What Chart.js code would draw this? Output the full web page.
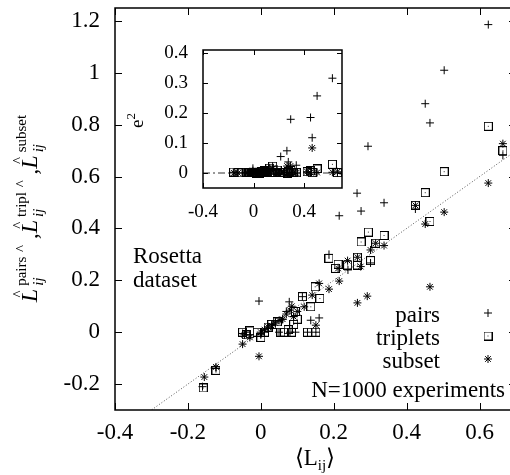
<!DOCTYPE html>
<html>
<head>
<meta charset="utf-8">
<script src="https://cdn.jsdelivr.net/npm/chart.js@4.4.0/dist/chart.umd.min.js"></script>
<style>
html, body { margin: 0; padding: 0; background: #fff; overflow: hidden; width: 510px; height: 475px; }
#wrap { position: relative; width: 510px; height: 475px; overflow: hidden; }
#mainChart { position: absolute; left: 0; top: 0; }
#insetChart { position: absolute; left: 120px; top: 30px; }
</style>
</head>
<body>
<div id="wrap">
<canvas id="mainChart" width="530" height="475"></canvas>
<canvas id="insetChart" width="240" height="190"></canvas>
</div>
<script>
// <L_ij> (x) and the estimates from pairs / triplets / subset (y)
var pairsL = [-0.16, -0.123, -0.05, -0.04, -0.03, -0.005, 0.0, 0.01, 0.02, 0.03, 0.04, 0.05, 0.06, 0.07, 0.078, 0.08, 0.09, 0.095, 0.114, 0.128, 0.137, 0.151, 0.16, 0.187, 0.215, 0.239, 0.264, 0.275, 0.294, 0.301, 0.338, 0.424, 0.451, 0.464, 0.503, 0.624, 0.664]
var pairsEst = [-0.21, -0.14, -0.005, 0.0, -0.01, 0.12, -0.01, 0.0, 0.02, 0.03, 0.04, 0.0, 0.05, 0.08, 0.117, 0.0, 0.06, 0.0, 0.137, 0.0, 0.046, 0.0, 0.055, 0.30, 0.449, 0.24, 0.536, 0.467, 0.717, 0.267, 0.499, 0.475, 0.881, 0.807, 1.01, 1.186, 0.682]
var pairsErr = [0.0025, 0.0003, 0.002, 0.0016, 0.0004, 0.0156, 0.0001, 0.0001, 0.0, 0.0, 0.0, 0.0025, 0.0001, 0.0001, 0.0015, 0.0064, 0.0009, 0.009, 0.0005, 0.0164, 0.0083, 0.0228, 0.011, 0.0128, 0.0548, 0.0, 0.074, 0.0369, 0.179, 0.0012, 0.0259, 0.0026, 0.185, 0.1176, 0.257, 0.316, 0.0003]

var tripL = [-0.158, -0.123, -0.05, -0.04, -0.03, -0.01, 0.0, 0.01, 0.02, 0.03, 0.045, 0.055, 0.065, 0.075, 0.085, 0.09, 0.095, 0.1, 0.114, 0.128, 0.137, 0.151, 0.162, 0.149, 0.187, 0.205, 0.212, 0.238, 0.265, 0.265, 0.275, 0.295, 0.301, 0.315, 0.338, 0.424, 0.451, 0.464, 0.503, 0.624, 0.664]
var tripEst = [-0.215, -0.147, 0.0, -0.01, 0.005, 0.0, -0.02, 0.0, 0.02, 0.03, 0.04, 0.0, 0.0, 0.01, 0.0, 0.03, 0.08, 0.05, 0.137, 0.0, 0.098, 0.0, 0.13, 0.175, 0.285, 0.246, 0.262, 0.259, 0.289, 0.259, 0.348, 0.386, 0.276, 0.343, 0.373, 0.489, 0.538, 0.427, 0.619, 0.794, 0.70]
var tripErr = [0.0032, 0.0006, 0.0025, 0.0009, 0.0012, 0.0001, 0.0004, 0.0001, 0.0, 0.0, 0.0, 0.003, 0.0042, 0.0042, 0.0072, 0.0036, 0.0002, 0.0025, 0.0005, 0.0164, 0.0015, 0.0228, 0.001, 0.0007, 0.0096, 0.0017, 0.0025, 0.0004, 0.0006, 0.0, 0.0053, 0.0083, 0.0006, 0.0008, 0.0012, 0.0042, 0.0076, 0.0014, 0.0135, 0.0289, 0.0013]

var subL = [-0.155, -0.123, -0.05, -0.045, -0.03, -0.005, 0.0, 0.01, 0.02, 0.03, 0.04, 0.05, 0.06, 0.07, 0.08, 0.085, 0.09, 0.1, 0.119, 0.141, 0.151, 0.16, 0.187, 0.215, 0.212, 0.238, 0.265, 0.274, 0.265, 0.292, 0.301, 0.315, 0.338, 0.424, 0.451, 0.464, 0.503, 0.624, 0.664]
var subEst = [-0.173, -0.134, -0.046, -0.01, -0.02, -0.093, 0.0, 0.01, 0.02, 0.025, 0.035, 0.045, 0.05, 0.07, 0.085, 0.1, 0.06, 0.08, 0.098, 0.143, 0.027, 0.188, 0.166, 0.197, 0.246, 0.276, 0.289, 0.253, 0.113, 0.139, 0.317, 0.343, 0.334, 0.489, 0.417, 0.175, 0.463, 0.575, 0.727]
var subErr = [0.0003, 0.0001, 0.0, 0.0012, 0.0001, 0.0077, 0.0, 0.0, 0.0, 0.0, 0.0, 0.0, 0.0001, 0.0, 0.0, 0.0002, 0.0009, 0.0004, 0.0004, 0.0, 0.0154, 0.0008, 0.0004, 0.0003, 0.0012, 0.0014, 0.0006, 0.0004, 0.0231, 0.0234, 0.0003, 0.0008, 0.0, 0.0042, 0.0012, 0.0835, 0.0016, 0.0024, 0.004]

var seriesNames = ['pairs', 'triplets', 'subset']
var titleParts = ['pairs', 'tripl', 'subset']
var xRange = [-0.4, 0.7]
var yRange = [-0.3, 1.25]
var insetY = [-0.05, 0.41]

var serif = '"Liberation Serif", "Times New Roman", serif'
Chart.defaults.font.family = serif
Chart.defaults.color = '#000'

function pts(xs, ys) {
    var out = []
    for (var i = 0; i < xs.length; i++) out.push({x: xs[i], y: ys[i]})
    return out
}

// square with a dot in the middle, like gnuplot's boxed point
function boxDot() {
    var c = document.createElement('canvas')
    c.width = 9; c.height = 9
    var g = c.getContext('2d')
    g.strokeStyle = '#000'; g.lineWidth = 1
    g.strokeRect(0.5, 0.5, 8, 8)
    g.fillStyle = '#333'; g.fillRect(4, 4, 1, 1)
    return c
}
var boxStyle = boxDot()
var marks = [
    {pointStyle: 'cross', radius: 4},
    {pointStyle: boxStyle, radius: 4},
    {pointStyle: 'star', radius: 4}
]

function scatterSet(label, data, m) {
    return {
        type: 'scatter', label: label, data: data,
        pointStyle: m.pointStyle, pointRadius: m.radius,
        borderColor: '#000', backgroundColor: 'rgba(0,0,0,0)', borderWidth: 1
    }
}

function fitAxis(w, h) {
    return function(scale) {
        if (w) scale.width = w
        if (h) scale.height = h
        scale.paddingTop = 0; scale.paddingBottom = 0
        scale.paddingLeft = 0; scale.paddingRight = 0
    }
}
function fmt(v) { return String(Math.round(v * 10) / 10) }

// inward ticks on all four sides plus the frame
var frameTicks = {
    id: 'frameTicks',
    beforeDatasetsDraw: function(chart, args, opts) {
        if (!opts.fill) return
        var a = chart.chartArea, ctx = chart.ctx
        ctx.save(); ctx.fillStyle = '#fff'
        ctx.fillRect(a.left, a.top, a.right - a.left, a.bottom - a.top)
        ctx.restore()
    },
    afterDatasetsDraw: function(chart, args, opts) {
        var ctx = chart.ctx, a = chart.chartArea, len = opts.len
        var xs = chart.scales.x, ys = chart.scales.y
        ctx.save()
        ctx.strokeStyle = '#000'; ctx.lineWidth = 1
        ctx.beginPath()
        xs.ticks.forEach(function(t) {
            var px = Math.round(xs.getPixelForValue(t.value)) + 0.5
            ctx.moveTo(px, a.bottom); ctx.lineTo(px, a.bottom - len)
            ctx.moveTo(px, a.top); ctx.lineTo(px, a.top + len)
        })
        ys.ticks.forEach(function(t) {
            var py = Math.round(ys.getPixelForValue(t.value)) + 0.5
            ctx.moveTo(a.left, py); ctx.lineTo(a.left + len, py)
            ctx.moveTo(a.right, py); ctx.lineTo(a.right - len, py)
        })
        ctx.stroke()
        ctx.lineWidth = opts.frame
        ctx.strokeRect(a.left, a.top, a.right - a.left, a.bottom - a.top)
        ctx.restore()
    }
}

function drawMark(ctx, m, x, y) {
    ctx.save()
    ctx.strokeStyle = '#000'; ctx.lineWidth = 1
    Chart.helpers.drawPoint(ctx, {pointStyle: m.pointStyle, radius: m.radius, rotation: 0, borderWidth: 1}, x, y)
    ctx.restore()
}

// L^hat_ij^{...} pieces along a baseline, centred on 0
function drawYTitle(ctx, cx, cy) {
    var big = '23px ' + serif, bigIt = 'italic 24px ' + serif
    var small = '15px ' + serif, smallIt = 'italic 15px ' + serif
    var items = []
    titleParts.forEach(function(p, i) {
        items.push({text: 'L', font: bigIt, dy: 0, hat: true, pad: 3})
        items.push({text: 'ij', font: smallIt, dy: 6, sup: p, supFont: small, supDy: -11})
        if (i < titleParts.length - 1) {
            items.push({text: ' ^', font: small, dy: -11})
            items.push({text: ' ,', font: big, dy: 0})
        }
    })
    var total = 0
    items.forEach(function(it) {
        ctx.font = it.font
        it.w = ctx.measureText(it.text).width + (it.pad || 0)
        if (it.sup) { ctx.font = it.supFont; it.w = Math.max(it.w, ctx.measureText(it.sup).width) + 1 }
        total += it.w
    })
    ctx.save()
    ctx.translate(cx, cy)
    ctx.rotate(-Math.PI / 2)
    ctx.textAlign = 'left'; ctx.textBaseline = 'alphabetic'; ctx.fillStyle = '#000'
    var x = -total / 2
    items.forEach(function(it) {
        ctx.font = it.font
        ctx.fillText(it.text, x, it.dy)
        if (it.hat) {
            ctx.font = small
            ctx.textAlign = 'center'
            ctx.fillText('^', x + it.w / 2, -14)
            ctx.textAlign = 'left'
        }
        if (it.sup) { ctx.font = it.supFont; ctx.fillText(it.sup, x, it.supDy) }
        x += it.w
    })
    ctx.restore()
}

var mainTexts = {
    id: 'mainTexts',
    afterDraw: function(chart) {
        var ctx = chart.ctx
        ctx.save()
        ctx.fillStyle = '#000'
        ctx.font = '23px ' + serif
        ctx.textBaseline = 'alphabetic'
        ctx.textAlign = 'left'
        ctx.fillText('Rosetta', 133, 263)
        ctx.fillText('dataset', 133, 287)
        ctx.textAlign = 'right'
        var base = [322, 345, 368]
        seriesNames.forEach(function(n, i) {
            ctx.fillText(n, 440, base[i])
        })
        ctx.fillText('N=1000 experiments', 505, 397)
        // x title <L_ij>
        var parts = [['\u27E8', '23px ' + serif, 0], ['L', '23px ' + serif, 0], ['ij', '15px ' + serif, 5], ['\u27E9', '23px ' + serif, 0]]
        var w = 0
        parts.forEach(function(p) { ctx.font = p[1]; p.push(ctx.measureText(p[0]).width); w += p[3] })
        var x = 315 - w / 2
        ctx.textAlign = 'left'
        parts.forEach(function(p) { ctx.font = p[1]; ctx.fillText(p[0], x, 465 + p[2]); x += p[3] })
        ctx.restore()
        for (var i = 0; i < 3; i++) drawMark(ctx, marks[i], 488, base[i] - 9)
        drawYTitle(ctx, 37, 208)
    }
}

var insetTexts = {
    id: 'insetTexts',
    afterDraw: function(chart) {
        var ctx = chart.ctx
        ctx.save()
        ctx.translate(143 - 120, 122 - 30)
        ctx.rotate(-Math.PI / 2)
        ctx.fillStyle = '#000'
        ctx.textAlign = 'left'; ctx.textBaseline = 'alphabetic'
        ctx.font = '19px ' + serif
        var ew = ctx.measureText('e').width
        ctx.fillText('e', -6, 0)
        ctx.font = '13px ' + serif
        ctx.fillText('2', -6 + ew, -8)
        ctx.restore()
    }
}

var mainData = {
    datasets: [
        scatterSet(seriesNames[0], pts(pairsL, pairsEst), marks[0]),
        scatterSet(seriesNames[1], pts(tripL, tripEst), marks[1]),
        scatterSet(seriesNames[2], pts(subL, subEst), marks[2]),
        {
            type: 'line', label: 'y=x',
            data: [{x: xRange[0], y: xRange[0]}, {x: xRange[1], y: xRange[1]}],
            borderColor: '#555', borderWidth: 1, borderDash: [1, 2], pointRadius: 0, fill: false
        }
    ]
}

var mainChart = new Chart(document.getElementById('mainChart'), {
    data: mainData,
    options: {
        responsive: false, animation: false, events: [],
        layout: {padding: {top: 8, right: 14, left: 0, bottom: 0}},
        plugins: {legend: {display: false}, tooltip: {enabled: false}, frameTicks: {len: 7, frame: 1.5}},
        scales: {
            x: {
                type: 'linear', min: xRange[0], max: xRange[1],
                grid: {display: false, drawTicks: false}, border: {display: false},
                ticks: {stepSize: 0.2, includeBounds: false, padding: 9, font: {size: 23}, callback: fmt, maxRotation: 0},
                afterFit: fitAxis(0, 65)
            },
            y: {
                type: 'linear', min: yRange[0], max: yRange[1],
                grid: {display: false, drawTicks: false}, border: {display: false},
                ticks: {stepSize: 0.2, includeBounds: false, padding: 15, font: {size: 23}, callback: fmt},
                afterFit: fitAxis(115, 0)
            }
        }
    },
    plugins: [frameTicks, mainTexts]
})

var insetChart = new Chart(document.getElementById('insetChart'), {
    data: {
        datasets: [
            scatterSet(seriesNames[0], pts(pairsL, pairsErr), marks[0]),
            scatterSet(seriesNames[1], pts(tripL, tripErr), marks[1]),
            scatterSet(seriesNames[2], pts(subL, subErr), marks[2]),
            {
                type: 'line', label: 'zero',
                data: [{x: xRange[0], y: 0}, {x: xRange[1], y: 0}],
                borderColor: '#333', borderWidth: 1, borderDash: [7, 3, 2, 3], pointRadius: 0, fill: false
            }
        ]
    },
    options: {
        responsive: false, animation: false, events: [],
        layout: {padding: {top: 20, right: 18, left: 0, bottom: 0}},
        plugins: {legend: {display: false}, tooltip: {enabled: false}, frameTicks: {len: 5, frame: 1.5, fill: true}},
        scales: {
            x: {
                type: 'linear', min: xRange[0], max: xRange[1],
                grid: {display: false, drawTicks: false}, border: {display: false},
                ticks: {stepSize: 0.4, includeBounds: false, padding: 13, font: {size: 19}, callback: fmt, maxRotation: 0},
                afterFit: fitAxis(0, 32)
            },
            y: {
                type: 'linear', min: insetY[0], max: insetY[1],
                grid: {display: false, drawTicks: false}, border: {display: false},
                ticks: {stepSize: 0.1, includeBounds: false, padding: 15, font: {size: 19}, callback: fmt},
                afterFit: fitAxis(83, 0)
            }
        }
    },
    plugins: [frameTicks, insetTexts]
})
</script>
</body>
</html>
